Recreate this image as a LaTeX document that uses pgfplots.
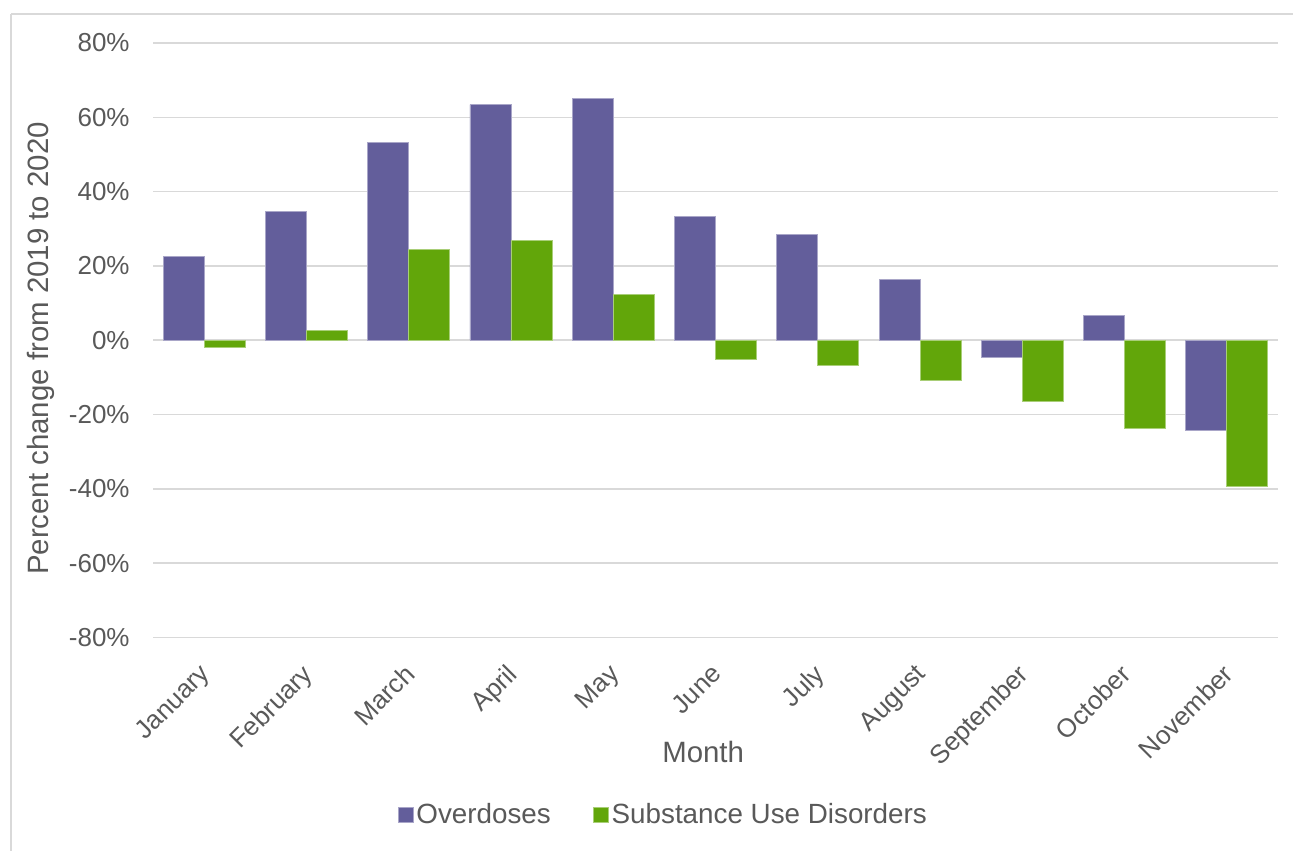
\documentclass[border=0pt]{standalone}
\usepackage{pgfplots}
\pgfplotsset{compat=1.18}
\usepackage{fontspec}
\setmainfont{Liberation Sans}

\definecolor{odcol}{HTML}{635E9B}
\definecolor{sudcol}{HTML}{62A60A}
\definecolor{txtgray}{HTML}{595959}
\definecolor{gridgray}{HTML}{D9D9D9}

\begin{document}
\begin{tikzpicture}
\useasboundingbox (0pt,0pt) rectangle (646.5pt,425pt);
% outer chart frame
\draw[gridgray, line width=0.8pt] (5.5pt,418pt) -- (660pt,418pt);
\draw[gridgray, line width=0.8pt] (5.5pt,418pt) -- (5.5pt,-10pt);
\begin{axis}[
  at={(76.5pt,106.3pt)}, anchor=south west,
  scale only axis,
  width=562.5pt, height=297.2pt,
  ybar=0pt, bar width=20.5pt,
  xmin=-0.5, xmax=10.5,
  ymin=-80, ymax=80,
  axis line style={draw=none},
  major tick length=0pt,
  ymajorgrids, grid style={gridgray, line width=0.8pt},
  ytick={-80,-60,-40,-20,0,20,40,60,80},
  yticklabels={-80\%,-60\%,-40\%,-20\%,0\%,20\%,40\%,60\%,80\%},
  xtick={0,...,10},
  xticklabels={January,February,March,April,May,June,July,August,September,October,November},
  xticklabel style={xshift=-2.8pt, yshift=-11pt, rotate=45, anchor=north east, inner sep=1pt},
  yticklabel style={inner sep=0pt, xshift=-11.5pt},
  tick label style={font=\fontsize{13}{15}\selectfont, text=txtgray},
  label style={font=\fontsize{14.7}{17}\selectfont, text=txtgray},
  xlabel={Month},
  ylabel={Percent change from 2019 to 2020},
  xlabel style={at={(axis description cs:0.489,-0.193)}, anchor=center},
  ylabel style={at={(axis description cs:-0.1,0.486)}, anchor=center},
  legend columns=2,
  legend style={at={(axis description cs:0.454,-0.299)}, anchor=center, draw=none,
    font=\fontsize{13.9}{16}\selectfont, text=txtgray,
    nodes={inner xsep=1.5pt},
    /tikz/every even column/.append style={column sep=19.5pt}},
  legend image code/.code={\fill[#1] (0pt,-3.75pt) rectangle (7.5pt,3.75pt);},
  clip=false,
]
\addplot[fill=odcol, draw=odcol!55!white, line width=0.4pt] coordinates {
  (0,22.5) (1,34.6) (2,53.2) (3,63.4) (4,65.0) (5,33.3)
  (6,28.4) (7,16.3) (8,-4.6) (9,6.6) (10,-24.3)};
\addplot[fill=sudcol, draw=sudcol!55!white, line width=0.4pt] coordinates {
  (0,-1.9) (1,2.6) (2,24.4) (3,26.8) (4,12.3) (5,-5.2)
  (6,-6.8) (7,-10.9) (8,-16.6) (9,-23.8) (10,-39.4)};
\legend{Overdoses, Substance Use Disorders}
\end{axis}
\end{tikzpicture}
\end{document}
